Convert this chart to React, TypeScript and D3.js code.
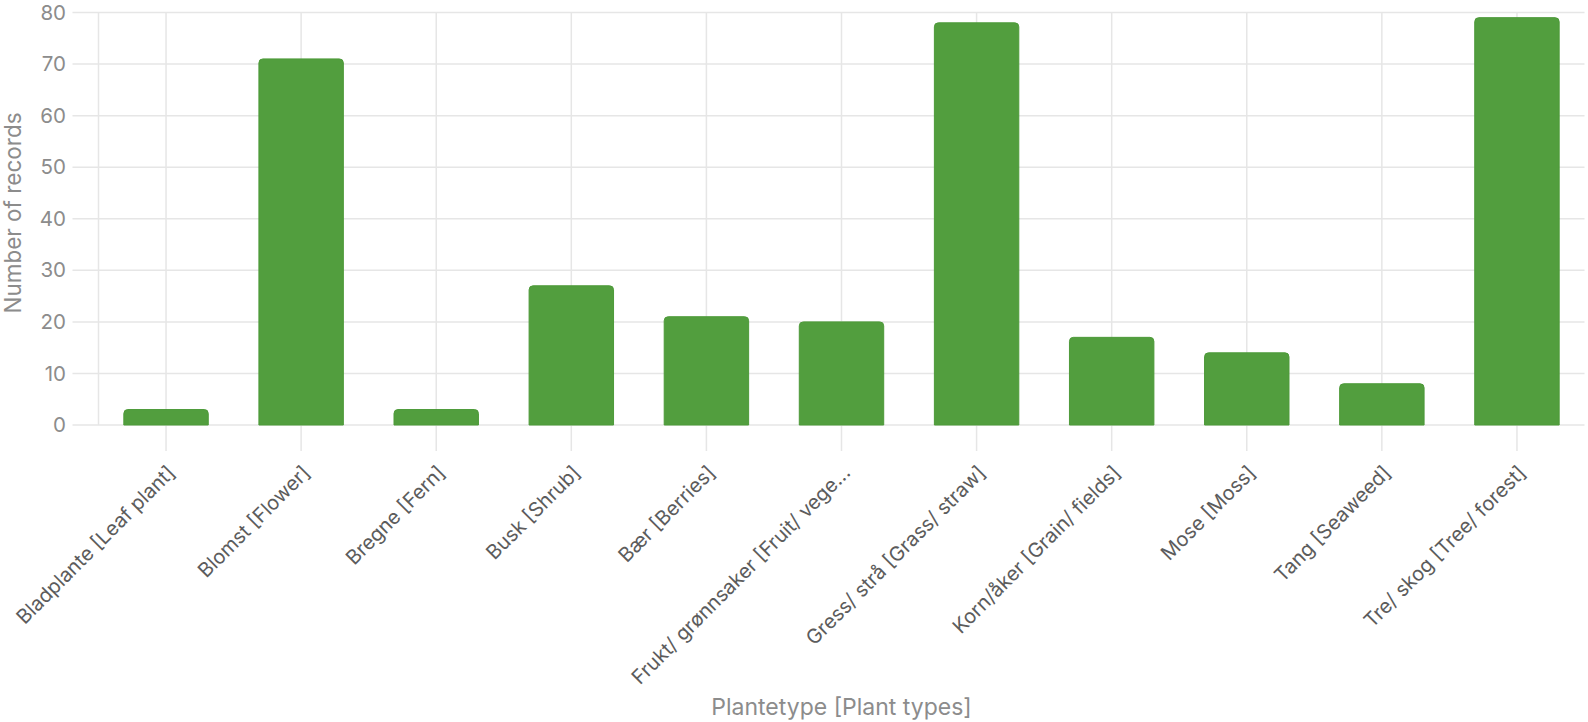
import * as d3 from "d3";
import { useEffect, useRef } from "react";

const categories = [
	"Bladplante [Leaf plant]",
	"Blomst [Flower]",
	"Bregne [Fern]",
	"Busk [Shrub]",
	"Bær [Berries]",
	"Frukt/ grønnsaker [Fruit/ vegetables]",
	"Gress/ strå [Grass/ straw]",
	"Korn/åker [Grain/ fields]",
	"Mose [Moss]",
	"Tang [Seaweed]",
	"Tre/ skog [Tree/ forest]",
];
const records = [3, 71, 3, 27, 21, 20, 78, 17, 14, 8, 79];
const yTicks = [0, 10, 20, 30, 40, 50, 60, 70, 80];

const WIDTH = 1588;
const HEIGHT = 722;
const FONT = "Inter, 'Noto Sans', sans-serif";

function truncate(s: string, n = 30) {
	return s.length > n ? s.slice(0, n) + "..." : s;
}

export default function App() {
	const ref = useRef<SVGSVGElement | null>(null);

	useEffect(() => {
		if (!ref.current) return;
		const svg = d3.select(ref.current);
		svg.selectAll("*").remove();

		const left = 98.5;
		const right = 1584.5;
		const top = 12.5;
		const bottom = 425;
		const tick = 26;

		const x = d3
			.scaleBand<string>()
			.domain(categories)
			.range([left, right])
			.paddingInner(0.375)
			.paddingOuter(0.1875);
		const y = d3.scaleLinear().domain([0, 80]).range([bottom, top]);
		const center = (c: string) => (x(c) ?? 0) + x.bandwidth() / 2;

		const grid = svg.append("g").attr("stroke", "#e6e6e6").attr("stroke-width", 1.5);
		grid
			.selectAll("line.h")
			.data(yTicks)
			.join("line")
			.attr("x1", left - tick)
			.attr("x2", right)
			.attr("y1", (d) => y(d))
			.attr("y2", (d) => y(d));
		grid
			.append("line")
			.attr("x1", left)
			.attr("x2", left)
			.attr("y1", top)
			.attr("y2", bottom);
		grid
			.selectAll("line.v")
			.data(categories)
			.join("line")
			.attr("x1", (d) => center(d))
			.attr("x2", (d) => center(d))
			.attr("y1", top)
			.attr("y2", bottom + tick);

		const r = 4;
		svg
			.append("g")
			.selectAll("path")
			.data(records)
			.join("path")
			.attr("fill", "#529e3e")
			.attr("stroke", "#4d9a39")
			.attr("stroke-width", 1)
			.attr("d", (v, i) => {
				const x0 = x(categories[i]) ?? 0;
				const x1 = x0 + x.bandwidth();
				const y0 = y(v);
				const y1 = y(0);
				const rr = Math.min(r, (y1 - y0) / 2);
				return `M${x0},${y1}V${y0 + rr}Q${x0},${y0} ${x0 + rr},${y0}H${x1 - rr}Q${x1},${y0} ${x1},${y0 + rr}V${y1}Z`;
			});

		svg
			.append("g")
			.selectAll("text")
			.data(yTicks)
			.join("text")
			.attr("x", 66)
			.attr("y", (d) => y(d))
			.attr("dy", "0.35em")
			.attr("text-anchor", "end")
			.attr("font-family", FONT)
			.attr("font-size", 20.5)
			.attr("fill", "#8c8c8c")
			.text((d) => d);

		svg
			.append("g")
			.selectAll("text")
			.data(categories)
			.join("text")
			.attr("transform", (d) => `translate(${center(d) + 10},${bottom + tick + 23}) rotate(-45)`)
			.attr("text-anchor", "end")
			.attr("font-family", FONT)
			.attr("font-size", 20)
			.attr("fill", "#5c5c5c")
			.text((d) => truncate(d));

		svg
			.append("text")
			.attr("transform", "translate(21,213) rotate(-90)")
			.attr("text-anchor", "middle")
			.attr("font-family", FONT)
			.attr("font-size", 22.5)
			.attr("fill", "#8c8c8c")
			.text("Number of records");

		svg
			.append("text")
			.attr("x", (left + right) / 2)
			.attr("y", 715)
			.attr("text-anchor", "middle")
			.attr("font-family", FONT)
			.attr("font-size", 23)
			.attr("fill", "#8c8c8c")
			.text("Plantetype [Plant types]");
	}, []);

	return (
		<svg
			ref={ref}
			width={WIDTH}
			height={HEIGHT}
			style={{ position: "absolute", left: 0, top: 0, background: "#fff" }}
		></svg>
	);
}
